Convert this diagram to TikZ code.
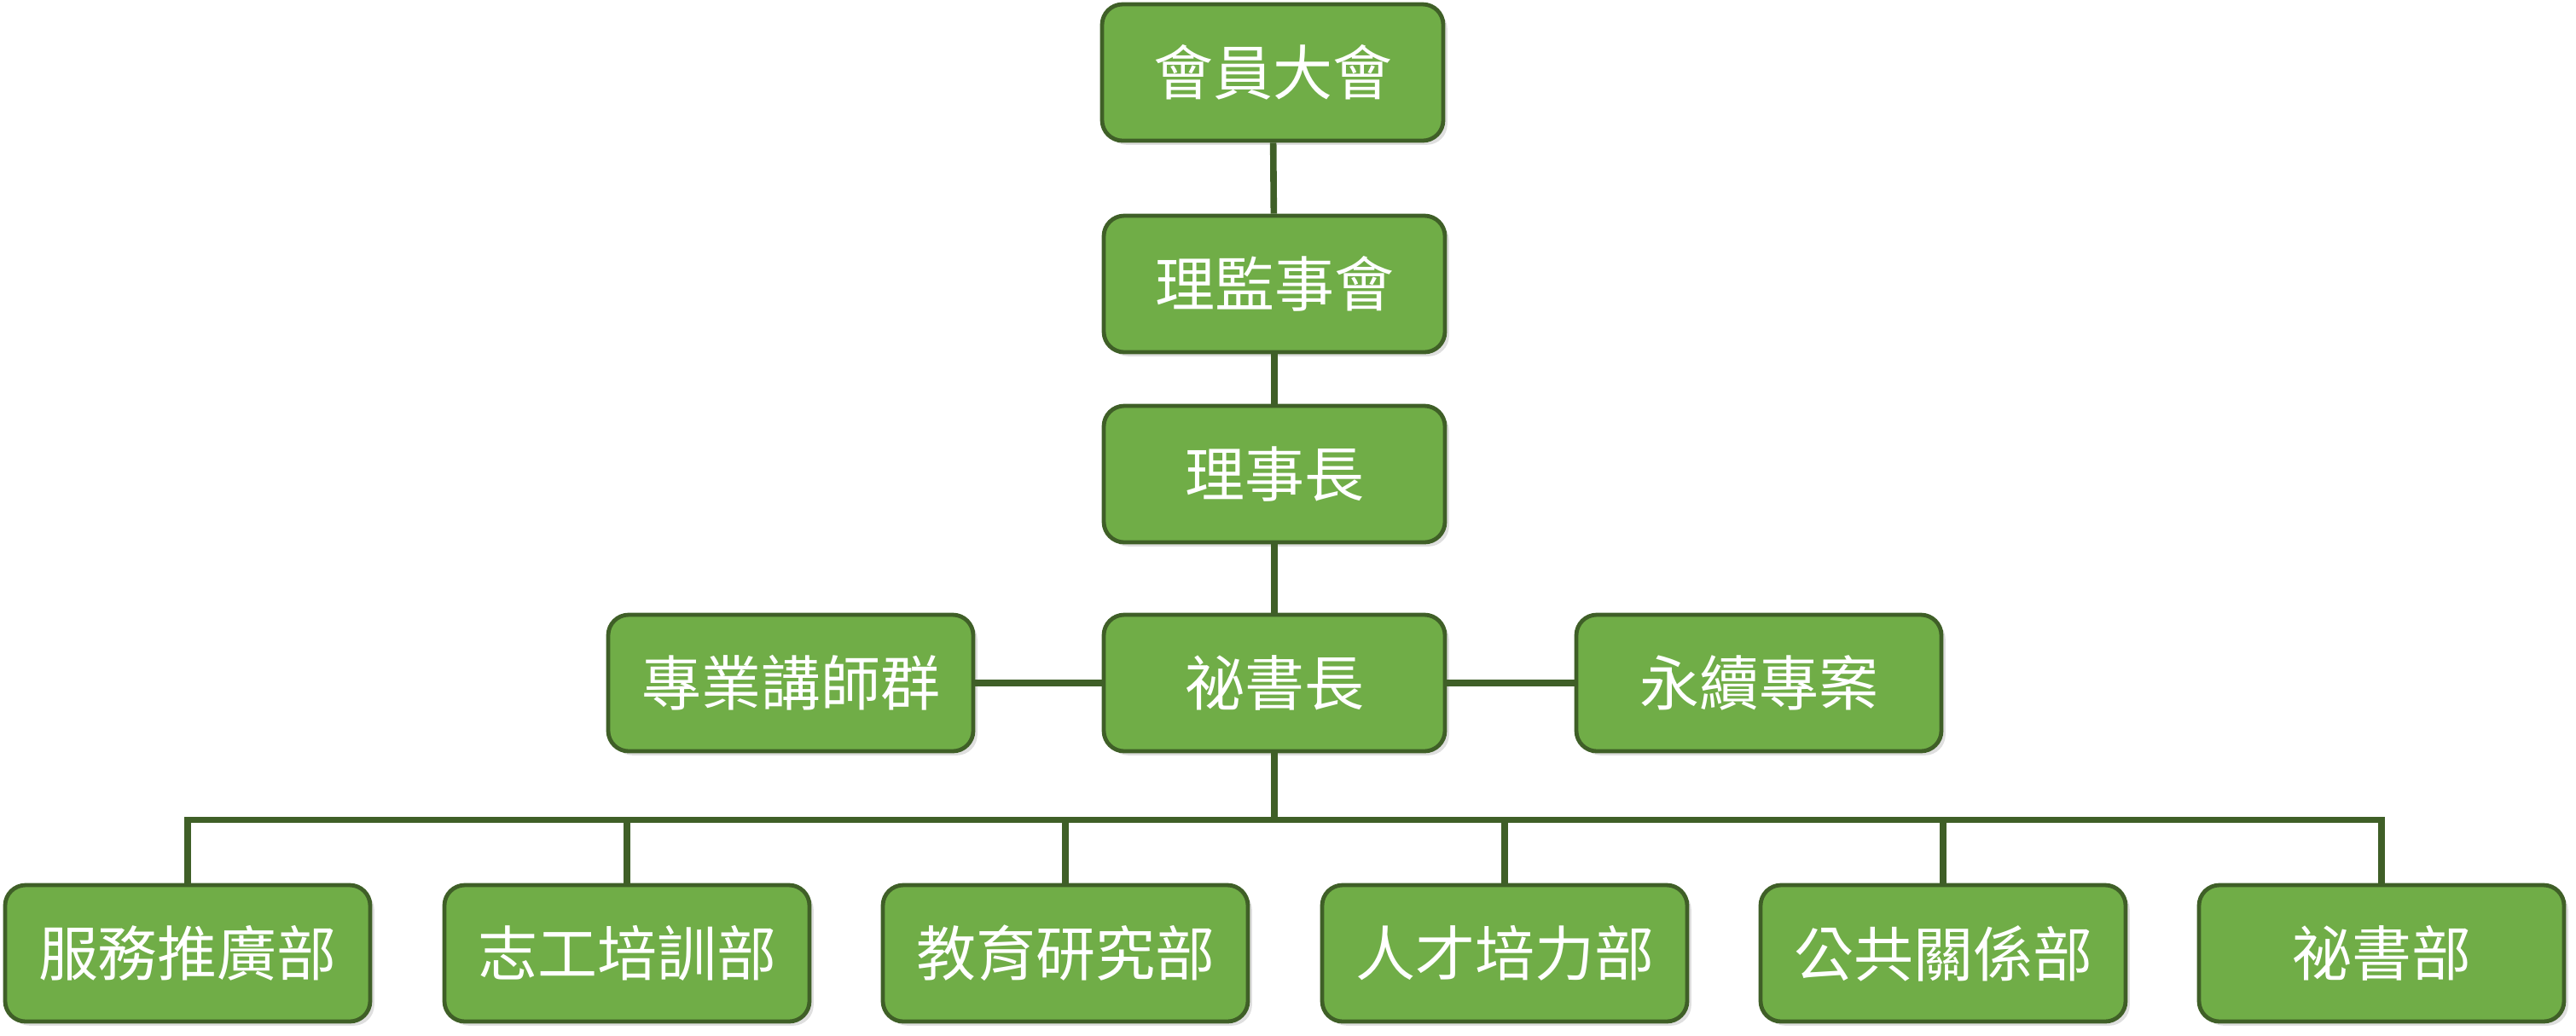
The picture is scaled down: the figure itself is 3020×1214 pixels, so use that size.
\documentclass[tikz,border=0pt]{standalone}
\usepackage{fontspec}
\newfontfamily\cjk{Noto Sans CJK TC}
\usepackage{tikz}
\usetikzlibrary{                          % TikZ libraries
                shapes,                   % .
                calc,                     % .
                shadows}
\usepackage{xcolor}
\definecolor{unitfill}{HTML}{70AD47}
\definecolor{unitline}{HTML}{3F5F27}

\begin{document}
\begin{tikzpicture}[x=0.25pt,y=0.25pt
                    ]
                % define styles
\tikzset{unit/.style={rectangle,
                       rounded corners=6pt,
                       draw=unitline,
                       fill=unitfill,
                       line width=1.2pt,
                       text=white,
                       inner sep=0,
                       minimum width=107pt,
                       minimum height=40pt,
                       font=\cjk\fontsize{17.5}{21}\selectfont,
                       drop shadow={opacity=0.25,
                                    shadow xshift=1.2pt,
                                    shadow yshift=-1.2pt},
                       },
         link/.style={draw=unitline,
                       line width=1.9pt,
                       }
}

\useasboundingbox (0,0) rectangle (3020,-1214);

% upper chain
\node[unit,minimum width=100pt] (assembly) at (1492,-85)  {會員大會};
\node[unit,minimum width=100pt] (board)    at (1494,-333) {理監事會};
\node[unit,minimum width=100pt] (chair)    at (1494,-556) {理事長};
\node[unit,minimum width=100pt] (secgen)   at (1494,-801) {祕書長};

% side units
\node[unit] (lecturer) at (927,-801)  {專業講師群};
\node[unit] (esg)      at (2062,-801) {永續專案};

% departments
\foreach \name/\xpos/\txt in {dept1/220/服務推廣部,
                              dept2/735/志工培訓部,
                              dept3/1249/教育研究部,
                              dept4/1764/人才培力部,
                              dept5/2278/公共關係部,
                              dept6/2792/祕書部}
    \node[unit] (\name) at (\xpos,-1118) {\txt};

% connectors
\draw[link] (assembly) -- (board);
\draw[link] (board)    -- (chair);
\draw[link] (chair)    -- (secgen);
\draw[link] (lecturer) -- (secgen);
\draw[link] (secgen)   -- (esg);

\coordinate (bus) at ($(secgen.south)+(0,-78)$);
\foreach \idx in {1,...,6}
    \draw[link] (secgen.south) -- (bus) -| (dept\idx.north);

\end{tikzpicture}
\end{document}
